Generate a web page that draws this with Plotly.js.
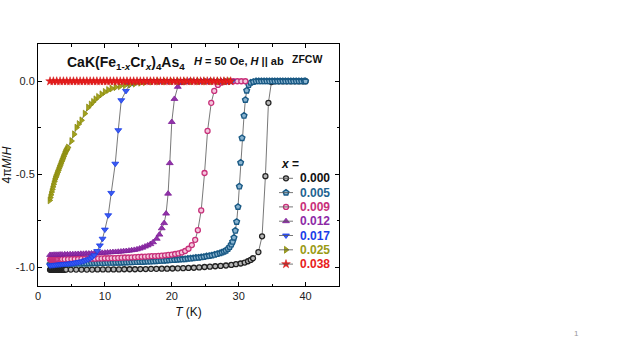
<!DOCTYPE html>
<html><head><meta charset="utf-8">
<script src="https://cdn.plot.ly/plotly-3.0.1.min.js"></script>
<style>html,body{margin:0;padding:0;background:#fff}</style>
</head><body><div id="chart" style="width:623px;height:350px"></div>
<script>
// ---------------- data ----------------
const seriesNames = ['0.000','0.005','0.009','0.012','0.017','0.025','0.038'];

const T0 = [1.8,1.9,2.0,2.1,2.2,2.3,2.4,2.5,2.6,2.7,2.8,2.9,3.0,3.1,3.2,3.3,3.4,3.5,3.6,3.7,3.8,3.9,4.0,4.2,
 4.9,5.7,6.5,7.3,8.1,8.9,9.7,10.5,11.3,12.1,12.9,13.7,14.5,15.3,16.1,16.9,17.7,18.5,19.3,20.1,20.9,21.7,22.5,23.3,24.1,24.9,25.7,26.5,27.3,28.1,28.9,
 29.6,30.3,30.9,31.4,31.8,32.15,
 32.95,33.5,34.0,34.45,34.9,
 35.4,36.0,36.6,37.2,37.8,38.4,39.0,39.6,40.0];
const M0 = [-1.013,-1.012,-1.013,-1.012,-1.012,-1.013,-1.012,-1.012,-1.013,-1.012,-1.012,-1.012,-1.013,-1.012,-1.012,-1.012,-1.013,-1.012,-1.012,-1.012,-1.012,-1.013,-1.012,-1.012,
 -1.012,-1.012,-1.012,-1.012,-1.012,-1.011,-1.011,-1.011,-1.011,-1.011,-1.010,-1.010,-1.010,-1.009,-1.009,-1.008,-1.008,-1.007,-1.007,-1.006,-1.005,-1.004,-1.003,-1.002,-1.000,-0.998,-0.996,-0.994,-0.992,-0.990,-0.987,
 -0.983,-0.979,-0.974,-0.967,-0.960,-0.951,
 -0.918,-0.833,-0.510,-0.116,-0.004,
 0,0,0,0,0,0,0,0,0];

const T1 = [1.8,2.1,2.4,2.7,3.0,3.3,3.6,3.9,4.2,4.5,4.8,
 5.2,5.6,6.0,6.4,6.8,7.2,7.6,8.0,8.4,8.8,9.2,9.6,10.0,10.4,10.8,11.2,11.6,12.0,12.4,12.8,13.2,13.6,14.0,
 14.4,14.8,15.2,15.6,16.0,16.4,16.8,17.2,17.6,18.0,18.4,18.8,19.2,19.6,20.0,20.4,20.8,21.2,21.6,22.0,22.4,22.8,23.2,23.6,24.0,24.4,24.8,25.2,
 25.6,26.0,26.4,26.8,27.2,27.5,27.8,28.1,28.4,28.65,28.9,29.1,29.3,
 29.5,29.7,29.9,30.1,30.3,30.5,30.8,31.0,31.2,31.5,31.8,32.2,
 32.6,33.0,33.4,33.8,34.2,34.6,35.0,35.4,35.8,36.2,36.6,37.0,37.4,37.8,38.2,38.6,39.0,39.4,39.8,40.0];
const M1 = [-0.983,-0.983,-0.982,-0.982,-0.982,-0.981,-0.981,-0.981,-0.980,-0.980,-0.980,
 -0.980,-0.979,-0.979,-0.979,-0.978,-0.978,-0.978,-0.977,-0.977,-0.977,-0.976,-0.976,-0.976,-0.975,-0.975,-0.975,-0.974,-0.974,-0.974,-0.973,-0.973,-0.972,-0.972,
 -0.971,-0.971,-0.970,-0.970,-0.969,-0.968,-0.968,-0.967,-0.966,-0.965,-0.964,-0.963,-0.962,-0.961,-0.960,-0.959,-0.958,-0.957,-0.956,-0.955,-0.953,-0.952,-0.950,-0.948,-0.947,-0.945,-0.943,-0.940,
 -0.938,-0.935,-0.932,-0.928,-0.924,-0.920,-0.915,-0.910,-0.900,-0.890,-0.877,-0.862,-0.840,
 -0.803,-0.755,-0.675,-0.565,-0.437,-0.305,-0.185,-0.100,-0.050,-0.020,-0.008,-0.003,
 0,0,0,0,0,0,0,0,0,0,0,0,0,0,0,0,0,0,0,0];

const T2 = [1.8,1.95,2.1,2.25,2.4,2.55,2.7,2.85,3.0,3.2,3.4,3.6,
 4.0,4.5,5.0,5.5,6.0,6.5,7.0,7.5,8.0,8.5,9.0,9.5,10.0,10.5,11.0,11.5,12.0,12.5,13.0,13.5,14.0,14.5,15.0,15.5,16.0,16.5,17.0,17.5,18.0,18.5,19.0,19.5,20.0,20.5,21.0,21.5,22.0,22.5,23.0,
 23.5,23.9,24.4,24.9,25.35,25.9,26.35,26.9,27.4,28.0,
 28.6,29.2,29.8,30.4,31.0];
const M2 = [-0.958,-0.958,-0.957,-0.958,-0.958,-0.957,-0.958,-0.957,-0.957,-0.957,-0.957,-0.956,
 -0.956,-0.956,-0.955,-0.955,-0.955,-0.954,-0.954,-0.953,-0.953,-0.953,-0.952,-0.952,-0.951,-0.951,-0.950,-0.950,-0.949,-0.948,-0.947,-0.947,-0.946,-0.945,-0.944,-0.943,-0.942,-0.941,-0.940,-0.939,-0.938,-0.937,-0.935,-0.933,-0.931,-0.928,-0.925,-0.920,-0.912,-0.900,-0.880,
 -0.852,-0.800,-0.694,-0.493,-0.267,-0.116,-0.052,-0.020,-0.008,-0.002,
 0,0,0,0,0];

const T3 = [1.8,2.1,2.4,2.7,3.0,3.3,3.6,
 4.0,4.4,4.8,5.2,5.6,6.0,6.4,6.8,7.2,7.6,8.0,8.4,8.8,9.2,9.6,10.0,10.4,10.8,11.2,11.6,12.0,12.4,12.8,13.2,13.6,14.0,14.4,14.8,15.2,15.6,16.0,16.4,16.8,17.2,
 17.75,18.15,18.5,18.86,19.15,19.45,19.7,20.0,20.4,20.9,21.4,22.0,
 22.6,23.2,23.8,24.4,25.0,25.6,26.2,26.8,27.4,28.0];
const M3 = [-0.933,-0.933,-0.932,-0.932,-0.932,-0.931,-0.931,
 -0.930,-0.930,-0.929,-0.929,-0.928,-0.928,-0.927,-0.927,-0.926,-0.926,-0.925,-0.924,-0.924,-0.923,-0.922,-0.921,-0.920,-0.919,-0.918,-0.917,-0.916,-0.915,-0.913,-0.912,-0.910,-0.908,-0.906,-0.903,-0.899,-0.894,-0.888,-0.882,-0.875,-0.865,
 -0.846,-0.824,-0.790,-0.762,-0.711,-0.604,-0.440,-0.219,-0.095,-0.030,-0.010,-0.003,
 0,0,0,0,0,0,0,0,0,0];

const T4 = [1.8,2.1,2.4,2.7,3.0,3.3,3.6,3.9,4.2,4.5,4.8,5.1,5.4,5.7,6.0,6.3,6.6,6.9,7.2,7.5,7.8,8.1,8.4,
 8.85,9.25,9.65,10.0,10.5,10.95,11.55,12.0,12.45,13.15,13.65,14.2,14.7,15.2,
 15.8,16.4,17.0,17.6,18.2,18.8,19.4,20.0,20.6,21.2,21.8,22.4,23.0,23.6,24.2,24.8,25.4,26.0,26.6,27.2,27.8,28.4,29.0];
const M4 = [-0.990,-0.989,-0.988,-0.986,-0.985,-0.984,-0.983,-0.982,-0.981,-0.980,-0.979,-0.978,-0.976,-0.974,-0.972,-0.970,-0.968,-0.965,-0.961,-0.957,-0.952,-0.945,-0.935,
 -0.912,-0.882,-0.846,-0.797,-0.720,-0.600,-0.443,-0.263,-0.102,-0.052,-0.020,-0.010,-0.005,-0.002,
 0,0,0,0,0,0,0,0,0,0,0,0,0,0,0,0,0,0,0,0,0,0,0];

const T5 = [1.75,1.85,1.95,2.05,2.15,2.25,2.35,2.45,2.55,2.65,2.75,2.85,2.95,3.05,3.15,3.25,3.35,3.45,3.55,3.65,3.75,3.85,3.95,4.05,4.15,4.25,4.35,4.5,
 5.0,5.4,5.76,6.1,6.5,7.0,7.5,7.9,8.25,8.6,9.0,9.5,10.0,10.5,11.0,11.6,12.25,13.0,13.75,14.5,15.3,16.0,17.0,
 18.0,19.0,20.0,21.0,22.0,23.0,24.0,25.0,26.0,27.0,28.0,28.75];
const M5 = [-0.640,-0.625,-0.610,-0.595,-0.581,-0.567,-0.553,-0.539,-0.527,-0.517,-0.508,-0.498,-0.489,-0.479,-0.469,-0.460,-0.450,-0.441,-0.431,-0.422,-0.413,-0.404,-0.394,-0.386,-0.379,-0.372,-0.365,-0.356,
 -0.321,-0.285,-0.249,-0.230,-0.210,-0.174,-0.141,-0.125,-0.111,-0.097,-0.084,-0.070,-0.057,-0.047,-0.039,-0.032,-0.027,-0.022,-0.018,-0.013,-0.008,-0.005,-0.002,
 0,0,0,0,0,0,0,0,0,0,0,0];

const T6 = [1.8,2.3,2.8,3.3,3.8,4.3,4.8,5.3,5.8,6.3,6.8,7.3,7.8,8.3,8.8,9.3,9.8,10.3,10.8,11.3,11.8,12.3,12.8,13.3,13.8,14.3,14.8,15.3,15.8,16.3,16.8,17.3,17.8,18.3,18.8,19.3,19.8,20.3,20.8,21.3,21.8,22.3,22.8,23.3,23.8,24.3,24.8,25.3,25.8,26.3,26.8,27.3,27.8,28.3,28.8];
const M6 = [0,0,0,0,0,0,0,0,0,0,0,0,0,0,0,0,0,0,0,0,0,0,0,0,0,0,0,0,0,0,0,0,0,0,0,0,0,0,0,0,0,0,0,0,0,0,0,0,0,0,0,0,0,0,0];

const xTickVals = [0,10,20,30,40];
const xTickText = ['0','10','20','30','40'];
const yTickVals = [-1.0,-0.5,0.0];
const yTickText = ['-1.0','-0.5','0.0'];

// ---------------- styles ----------------
const Ts = [T0,T1,T2,T3,T4,T5,T6];
const Ms = [M0,M1,M2,M3,M4,M5,M6];
const textColors = ['#111111','#1f6491','#c8307a','#8e2aa6','#1a3ee8','#9a9a14','#e82020'];
const markerStyles = [
  {symbol:'circle', size:5, color:'#b8b8b8', line:{color:'#222222', width:1.3}},
  {symbol:'pentagon', size:6, color:'#8ab4d0', line:{color:'#1a5a85', width:1.4}},
  {symbol:'circle', size:5, color:'#f4c6dc', line:{color:'#c8307a', width:1.3}},
  {symbol:'triangle-up', size:6, color:'#9232aa', line:{color:'#7e1f98', width:0.8}},
  {symbol:'triangle-down', size:6, color:'#3a5af2', line:{color:'#1a3ee8', width:0.8}},
  {symbol:'triangle-right', size:6, color:'#a3a31e', line:{color:'#8c8c10', width:0.8}},
  {symbol:'star', size:6.5, color:'#e82020', line:{color:'#d01010', width:0.5}}
];

const L = 38, R = 339, TOP = 44, BOT = 286;
const W = 623, H = 350;
const XR = [0,45], YR = [-1.1,0.2];
const fam = 'Arial, "Liberation Sans", sans-serif';

const traces = [];
for (let i = 0; i < Ts.length; i++) {
  traces.push({
    type:'scatter', mode:'lines+markers', x:Ts[i], y:Ms[i], name:seriesNames[i],
    line:{color:'#555555', width:0.8}, marker:markerStyles[i], showlegend:false,
    hoverinfo:'skip'
  });
}

function px(xp){ return (xp - L) / (R - L); }
function py(yp){ return (BOT - yp) / (BOT - TOP); }
function dx(xp){ return XR[0] + px(xp) * (XR[1]-XR[0]); }
function dy(yp){ return YR[0] + py(yp) * (YR[1]-YR[0]); }
function ann(text, xp, yp, size, color){
  return {xref:'paper', yref:'paper', x:px(xp), y:py(yp), xanchor:'left', yanchor:'middle',
    showarrow:false, text:text, font:{family:fam, size:size, color:color||'#111'}};
}

// custom legend: glyph line (shape), glyph marker, coloured label
const legRow0 = 178.3, legStep = 14.3, legLineL = 279, legLineR = 293, legTextL = 298;
const shapes = [];
const annotations = [];
for (let i = 0; i < seriesNames.length; i++) {
  const yy = legRow0 + i * legStep;
  shapes.push({type:'line', xref:'paper', yref:'paper', x0:px(legLineL), x1:px(legLineR), y0:py(yy), y1:py(yy),
               line:{color:'#555555', width:0.8}});
  traces.push({type:'scatter', mode:'markers', x:[dx((legLineL+legLineR)/2)], y:[dy(yy)],
               marker:markerStyles[i], showlegend:false, hoverinfo:'skip'});
  annotations.push(ann('<b>'+seriesNames[i]+'</b>', legTextL, yy, 12, textColors[i]));
}
annotations.push(ann('<b><i>x</i> =</b>', 279, 164, 12));
annotations.push(ann('<b>CaK(Fe<sub>1-<i>x</i></sub>Cr<sub><i>x</i></sub>)<sub>4</sub>As<sub>4</sub></b>', 65, 63, 14));
annotations.push(ann('<b><i>H</i> = 50 Oe, <i>H</i> || ab</b>', 192, 61, 11));
annotations.push(ann('<b>ZFCW</b>', 290, 59.5, 10.5));
annotations.push(ann('1', 572, 333, 8, '#999'));

const axBase = {showline:true, linecolor:'#000', linewidth:1, mirror:'ticks', ticks:'inside',
  ticklen:4, tickwidth:1, tickcolor:'#000', showgrid:false, zeroline:false,
  tickfont:{family:fam, size:11, color:'#222'}};

const layout = {
  width:W, height:H, margin:{l:L, r:W-R, t:TOP, b:H-BOT, pad:0},
  paper_bgcolor:'#fff', plot_bgcolor:'#fff', showlegend:false,
  xaxis:Object.assign({}, axBase, {range:XR, tickmode:'array', tickvals:xTickVals, ticktext:xTickText,
    minor:{ticks:'inside', ticklen:2.5, tickcolor:'#000', tickmode:'linear', tick0:5, dtick:10},
    title:{text:'<i>T</i> (K)', font:{family:fam, size:12, color:'#111'}, standoff:6}}),
  yaxis:Object.assign({}, axBase, {range:YR, tickmode:'array', tickvals:yTickVals, ticktext:yTickText,
    minor:{ticks:'inside', ticklen:2.5, tickcolor:'#000', tickmode:'linear', tick0:-0.25, dtick:0.5},
    title:{text:'4π<i>M</i>/<i>H</i>', font:{family:fam, size:12, color:'#111'}, standoff:5}}),
  shapes:shapes, annotations:annotations
};
Plotly.newPlot('chart', traces, layout, {displayModeBar:false, staticPlot:true});
</script></body></html>
